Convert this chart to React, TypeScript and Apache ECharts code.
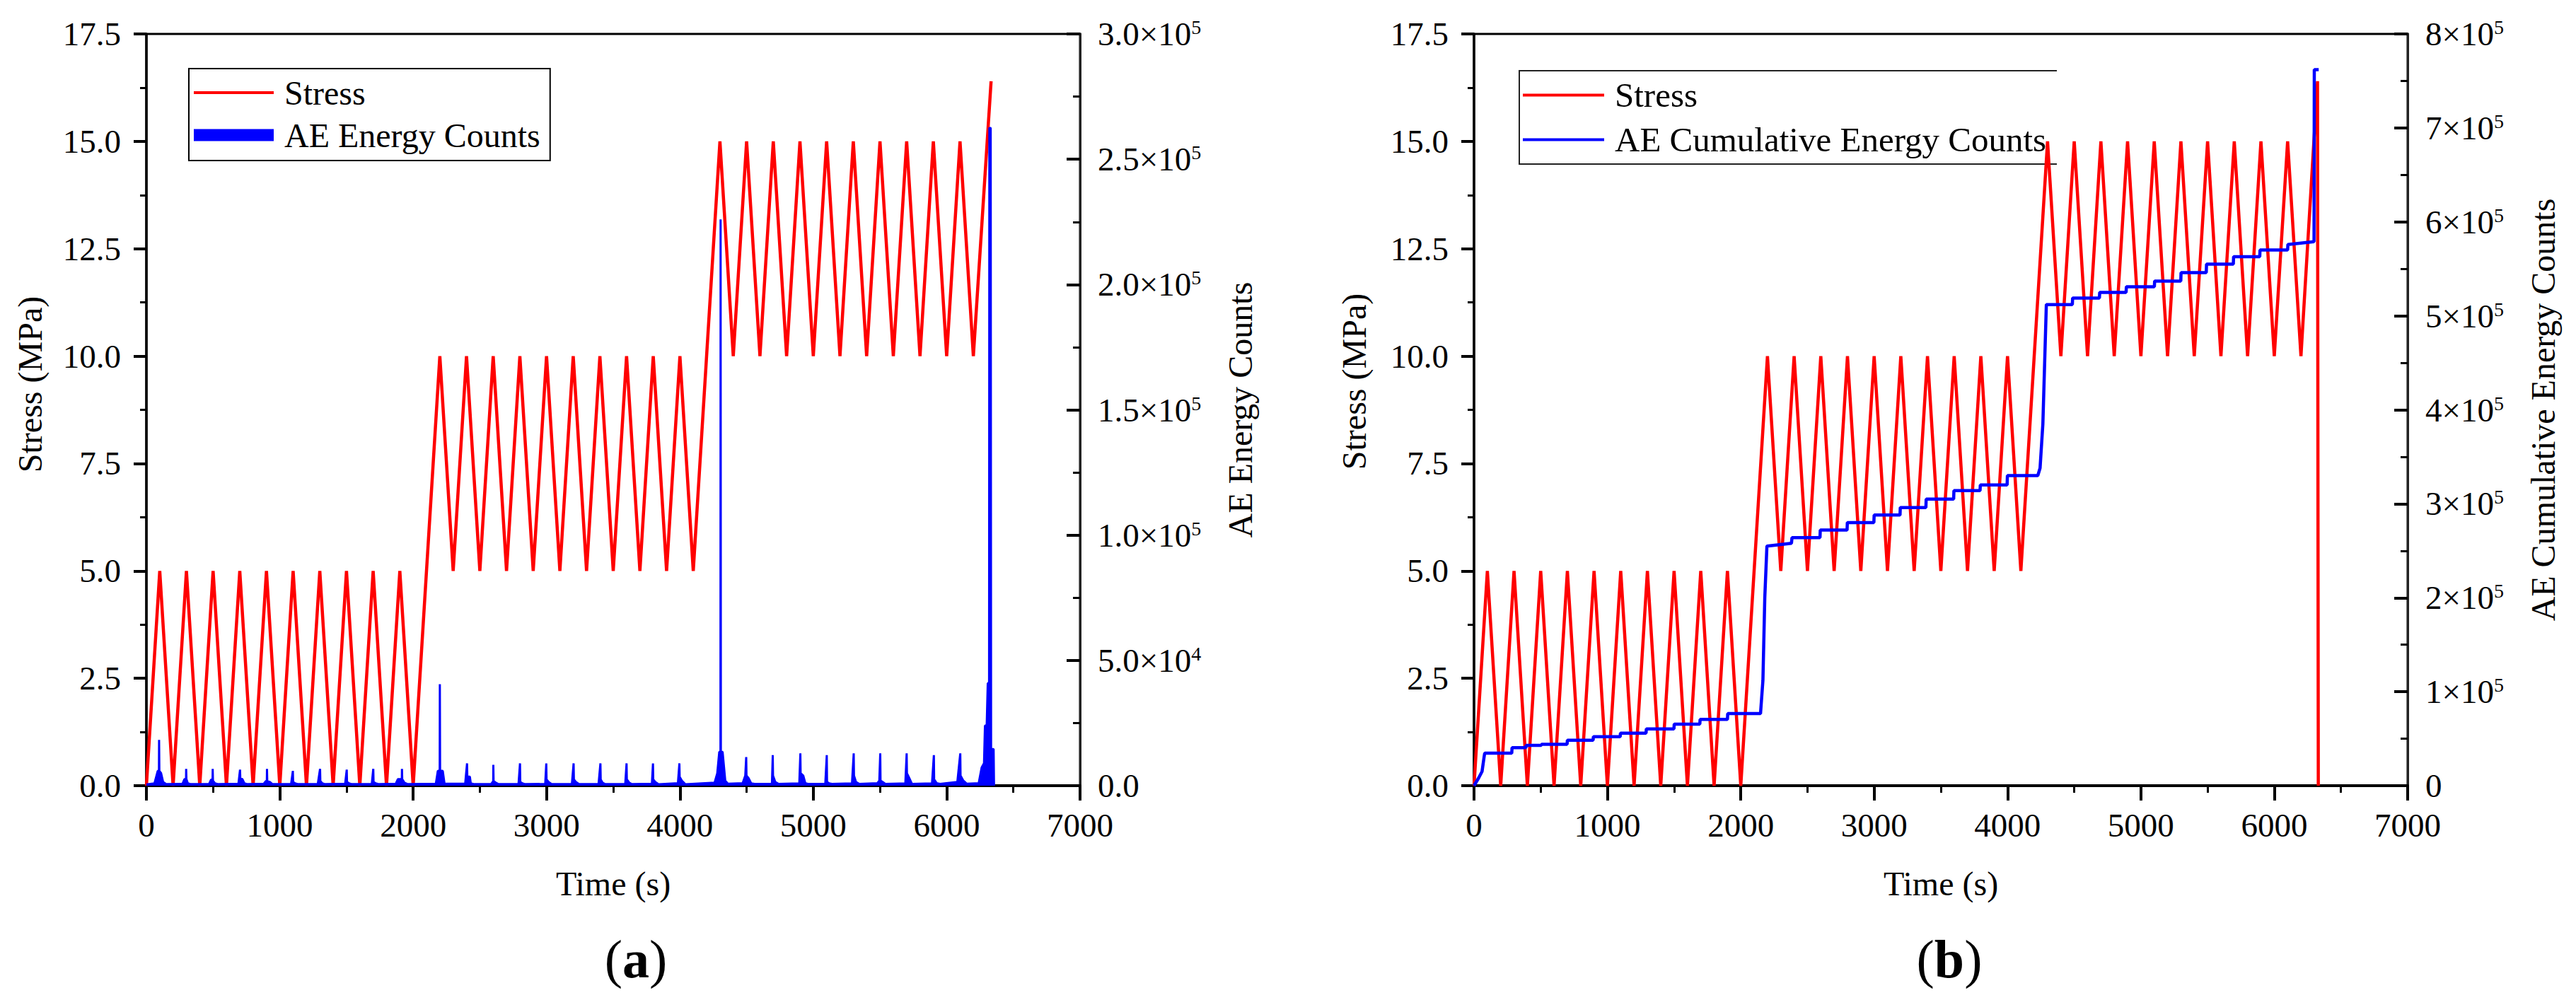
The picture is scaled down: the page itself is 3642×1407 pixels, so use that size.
import { useEffect, useRef } from 'react';
import * as echarts from 'echarts';

const FONT = 'Liberation Serif';
const RED = '#ff0000';
const BLUE = '#0000ff';

// loading path: [time (s), stress (MPa)]
const stressCycles: [number, number][] = [
  [0, 0], [100, 5], [200, 0], [300, 5], [400, 0], [500, 5], [600, 0], [700, 5], [800, 0], [900, 5],
  [1000, 0], [1100, 5], [1200, 0], [1300, 5], [1400, 0], [1500, 5], [1600, 0], [1700, 5], [1800, 0],
  [1900, 5], [2000, 0],
  [2200, 10], [2300, 5], [2400, 10], [2500, 5], [2600, 10], [2700, 5], [2800, 10], [2900, 5],
  [3000, 10], [3100, 5], [3200, 10], [3300, 5], [3400, 10], [3500, 5], [3600, 10], [3700, 5],
  [3800, 10], [3900, 5], [4000, 10], [4100, 5],
  [4300, 15], [4400, 10], [4500, 15], [4600, 10], [4700, 15], [4800, 10], [4900, 15], [5000, 10],
  [5100, 15], [5200, 10], [5300, 15], [5400, 10], [5500, 15], [5600, 10], [5700, 15], [5800, 10],
  [5900, 15], [6000, 10], [6100, 15], [6200, 10],
];
const stressA: [number, number][] = [...stressCycles, [6333, 16.4]];
const stressB: [number, number][] = [...stressCycles, [6324, 16.4], [6330, 0]];

// AE energy counts, panel (a)
const aeEnergy: [number, number][] = [
  [0, 500], [60, 900], [85, 5900], [94, 5900], [95, 18300], [97, 5900], [110, 5000], [125, 1500], [150, 600],
  [270, 700], [285, 2600], [297, 2600], [298, 6700], [300, 2600], [310, 1000], [330, 600],
  [470, 700], [485, 2400], [496, 2400], [497, 6700], [499, 2000], [515, 900], [540, 600],
  [690, 800], [702, 6400], [704, 2800], [720, 2600], [735, 900], [760, 600],
  [880, 800], [895, 1800], [903, 1800], [904, 6700], [906, 1800], [925, 1500], [945, 600],
  [1085, 700], [1098, 5900], [1100, 1500], [1115, 900], [1140, 600],
  [1285, 700], [1302, 6700], [1304, 1800], [1320, 900], [1340, 600],
  [1490, 800], [1502, 6400], [1504, 1500], [1520, 900], [1540, 600],
  [1690, 700], [1701, 6700], [1703, 1500], [1720, 900], [1745, 600],
  [1870, 800], [1885, 2600], [1915, 2600], [1916, 6700], [1918, 2600], [1935, 1200], [1960, 600],
  [2170, 800], [2185, 5900], [2199, 5900], [2200, 40500], [2202, 5900], [2222, 5900], [2235, 800],
  [2390, 800], [2404, 8900], [2406, 3600], [2425, 3600], [2432, 900], [2460, 600],
  [2585, 700], [2600, 1800], [2601, 8300], [2603, 1800], [2620, 1200], [2640, 600],
  [2790, 700], [2801, 8900], [2803, 1500], [2820, 900], [2840, 600],
  [2990, 700], [2998, 8900], [3000, 2500], [3015, 1500], [3040, 600],
  [3190, 700], [3203, 8900], [3205, 2500], [3220, 1500], [3245, 600],
  [3390, 700], [3404, 8900], [3406, 2500], [3420, 1200], [3440, 600],
  [3590, 700], [3600, 8900], [3602, 2500], [3620, 1200], [3640, 600],
  [3790, 800], [3798, 8900], [3800, 2500], [3815, 1500], [3840, 600],
  [3985, 1000], [3996, 8900], [3998, 3500], [4015, 2000], [4040, 600],
  [4260, 1200], [4280, 5000], [4295, 13500], [4304, 13500], [4305, 226000], [4307, 13500], [4320, 13500], [4340, 2000], [4360, 800],
  [4470, 1000], [4490, 4000], [4497, 11400], [4499, 4000], [4515, 3000], [4535, 900], [4560, 700],
  [4690, 800], [4696, 12200], [4698, 4000], [4715, 1500], [4740, 700],
  [4895, 900], [4903, 12900], [4905, 5000], [4925, 4000], [4940, 1000], [4960, 700],
  [5090, 800], [5101, 12200], [5103, 1500], [5120, 900], [5140, 700],
  [5290, 900], [5303, 12900], [5305, 4000], [5320, 1500], [5345, 700],
  [5480, 1000], [5495, 2000], [5502, 12900], [5504, 2000], [5520, 1500], [5540, 700],
  [5690, 900], [5700, 12900], [5702, 5000], [5720, 3000], [5740, 700],
  [5890, 900], [5904, 12200], [5906, 2500], [5925, 1000], [5950, 700],
  [6080, 1500], [6102, 12900], [6104, 4000], [6125, 2000], [6150, 800],
  [6240, 1000], [6262, 7200], [6280, 9000], [6287, 24000], [6300, 24000], [6308, 40900], [6318, 40900],
  [6320, 262500], [6330, 262500], [6333, 14600], [6352, 14600], [6355, 0],
];

// AE cumulative energy counts, panel (b)
const aeCumulative: [number, number][] = [
  [0, 0], [35, 8300], [60, 15000], [75, 30000], [80, 34600], [283, 34600], [285, 40400], [389, 40400],
  [391, 42900], [504, 42900], [506, 44100], [698, 44100], [700, 48400], [893, 48400], [895, 52100],
  [1096, 52100], [1098, 55900], [1290, 55900], [1292, 60400], [1499, 60400], [1501, 65500],
  [1693, 65500], [1695, 70500], [1900, 70500], [1902, 76700], [2148, 76700], [2166, 112000],
  [2180, 200000], [2196, 255000], [2380, 258000], [2384, 264000], [2594, 264000], [2596, 272000],
  [2797, 272000], [2799, 280000], [2998, 280000], [3000, 288000], [3194, 288000], [3196, 296000],
  [3388, 296000], [3390, 305000], [3596, 305000], [3598, 314000], [3794, 314000], [3796, 320000],
  [3997, 320000], [3999, 330000], [4227, 330000], [4244, 338000], [4265, 385000], [4291, 512000],
  [4486, 512000], [4488, 519000], [4689, 519000], [4691, 525000], [4889, 525000], [4891, 531000],
  [5101, 531000], [5103, 537000], [5299, 537000], [5301, 546000], [5490, 546000], [5492, 555000],
  [5693, 555000], [5695, 563000], [5891, 563000], [5893, 570000], [6100, 570000], [6102, 576000],
  [6298, 579000], [6300, 762000], [6333, 762000],
];

const black = { color: '#000', fontFamily: FONT, fontWeight: 'normal' };

const timeAxis = (gridIndex: number) => ({
  type: 'value',
  gridIndex,
  min: 0,
  max: 7000,
  interval: 1000,
  name: 'Time (s)',
  nameLocation: 'middle',
  nameGap: 114,
  nameTextStyle: { ...black, fontSize: 48 },
  axisLine: { show: true, onZero: false, lineStyle: { color: '#000', width: 4 } },
  axisTick: { show: true, length: 21, lineStyle: { color: '#000', width: 4 } },
  minorTick: { show: true, splitNumber: 2, length: 10, lineStyle: { color: '#000', width: 3 } },
  axisLabel: { ...black, fontSize: 47, margin: 32, formatter: (v: number) => String(v) },
  splitLine: { show: false },
});

const stressAxis = (gridIndex: number, nameGap: number, lift: number) => ({
  type: 'value',
  gridIndex,
  position: 'left',
  min: 0,
  max: 17.5,
  interval: 2.5,
  name: 'Stress (MPa)',
  nameLocation: 'middle',
  nameGap,
  nameTextStyle: { ...black, fontSize: 48, padding: [0, 0, 0, lift] },
  axisLine: { show: true, onZero: false, lineStyle: { color: '#000', width: 3.5 } },
  axisTick: { show: true, length: 18, lineStyle: { color: '#000', width: 4 } },
  minorTick: { show: true, splitNumber: 2, length: 9, lineStyle: { color: '#000', width: 3 } },
  axisLabel: { ...black, fontSize: 47, margin: 36, formatter: (v: number) => v.toFixed(1) },
  splitLine: { show: false },
});

const supRich = {
  m: { ...black, fontSize: 47, lineHeight: 47 },
  e: { ...black, fontSize: 28, lineHeight: 30, verticalAlign: 'top' },
};
const sup = (mant: string, exp: number) => `{m|${mant}×10}{e|${exp}}`;

const energyAxis = (gridIndex: number, name: string, max: number, interval: number, nameGap: number, formatter: (v: number) => string) => ({
  type: 'value',
  gridIndex,
  position: 'right',
  min: 0,
  max,
  interval,
  name,
  nameLocation: 'middle',
  nameGap,
  nameTextStyle: { ...black, fontSize: 48 },
  axisLine: { show: true, onZero: false, lineStyle: { color: '#222', width: 3 } },
  axisTick: { show: true, inside: true, length: 19, lineStyle: { color: '#000', width: 4 } },
  minorTick: { show: true, splitNumber: 2, length: 10, lineStyle: { color: '#000', width: 3 } },
  axisLabel: { ...black, fontSize: 47, margin: 25, formatter, rich: supRich },
  splitLine: { show: false },
});

const App = () => {
  const chartRef = useRef<HTMLDivElement>(null);

  useEffect(() => {
    if (!chartRef.current) return;
    const chart = echarts.init(chartRef.current, null, { renderer: 'svg' });

    const option = {
      animation: false,
      backgroundColor: '#fff',
      textStyle: { fontFamily: FONT, color: '#000' },
      grid: [
        { left: 207, top: 48, width: 1320, height: 1063, show: true, borderColor: '#000', borderWidth: 3, containLabel: false, outerBoundsMode: 'none' },
        { left: 2084, top: 48, width: 1320, height: 1063, show: true, borderColor: '#000', borderWidth: 3, containLabel: false, outerBoundsMode: 'none' },
      ],
      xAxis: [timeAxis(0), timeAxis(1)],
      yAxis: [
        stressAxis(0, 141, 72),
        energyAxis(0, 'AE Energy Counts', 300000, 50000, 202, (v: number) =>
          v === 0 ? '0.0' : v < 100000 ? sup((v / 10000).toFixed(1), 4) : sup((v / 100000).toFixed(1), 5)),
        stressAxis(1, 146, 80),
        energyAxis(1, 'AE Cumulative Energy Counts', 800000, 100000, 167, (v: number) =>
          v === 0 ? '0' : sup(String(v / 100000), 5)),
      ],
      legend: [
        {
          orient: 'vertical',
          left: 267,
          top: 97,
          padding: [10, 14, 12, 7],
          itemGap: 12,
          itemWidth: 113,
          itemHeight: 48,
          borderColor: '#000',
          borderWidth: 2,
          selectedMode: false,
          textStyle: { ...black, fontSize: 48, padding: [0, 0, 0, 10] },
          data: [
            { name: 'Stress', icon: 'path://M0,0H113V4H0Z', itemStyle: { color: RED, borderWidth: 0 } },
            { name: 'AE Energy Counts', icon: 'path://M0,0H113V17H0Z', itemStyle: { color: BLUE, borderWidth: 0 } },
          ],
        },
        {
          orient: 'vertical',
          left: 2148,
          top: 100,
          padding: [10, 8, 12, 5],
          itemGap: 14,
          itemWidth: 115,
          itemHeight: 48,
          borderWidth: 0,
          selectedMode: false,
          textStyle: { ...black, fontSize: 49, padding: [0, 0, 0, 10] },
          data: [
            { name: 'Stress', icon: 'path://M0,0H115V4H0Z', itemStyle: { color: RED, borderWidth: 0 } },
            { name: 'AE Cumulative Energy Counts', icon: 'path://M0,0H115V4H0Z', itemStyle: { color: BLUE, borderWidth: 0 } },
          ],
        },
      ],
      graphic: [
        {
          type: 'polyline',
          shape: { points: [[2908, 100], [2148, 100], [2148, 232], [2908, 232]] },
          style: { stroke: '#222', lineWidth: 2, fill: 'none' },
        },
        {
          type: 'text',
          x: 899,
          y: 1356,
          style: {
            text: '({b|a})',
            fontSize: 76,
            fontFamily: FONT,
            fill: '#000',
            textAlign: 'center',
            textVerticalAlign: 'middle',
            rich: { b: { fontSize: 76, fontFamily: FONT, fontWeight: 'bold', fill: '#000' } },
          },
        },
        {
          type: 'text',
          x: 2756,
          y: 1356,
          style: {
            text: '({b|b})',
            fontSize: 76,
            fontFamily: FONT,
            fill: '#000',
            textAlign: 'center',
            textVerticalAlign: 'middle',
            rich: { b: { fontSize: 76, fontFamily: FONT, fontWeight: 'bold', fill: '#000' } },
          },
        },
      ],
      series: [
        {
          name: 'Stress',
          type: 'line',
          xAxisIndex: 0,
          yAxisIndex: 0,
          data: stressA,
          symbol: 'none',
          lineStyle: { color: RED, width: 4.5 },
          itemStyle: { color: RED },
          z: 2,
        },
        {
          name: 'AE Energy Counts',
          type: 'line',
          xAxisIndex: 0,
          yAxisIndex: 1,
          data: aeEnergy,
          symbol: 'none',
          lineStyle: { color: BLUE, width: 3 },
          itemStyle: { color: BLUE },
          areaStyle: { color: BLUE, opacity: 1 },
          z: 3,
        },
        {
          name: 'Stress',
          type: 'line',
          xAxisIndex: 1,
          yAxisIndex: 2,
          data: stressB,
          symbol: 'none',
          lineStyle: { color: RED, width: 4.5 },
          itemStyle: { color: RED },
          z: 2,
        },
        {
          name: 'AE Cumulative Energy Counts',
          type: 'line',
          xAxisIndex: 1,
          yAxisIndex: 3,
          data: aeCumulative,
          symbol: 'none',
          lineStyle: { color: BLUE, width: 4.5 },
          itemStyle: { color: BLUE },
          z: 3,
        },
      ],
    };

    chart.setOption(option as any);

    return () => {
      chart.dispose();
    };
  }, []);

  return <div ref={chartRef} style={{ position: 'absolute', left: 0, top: 0, width: 3642, height: 1407 }} />;
};

export default App;
